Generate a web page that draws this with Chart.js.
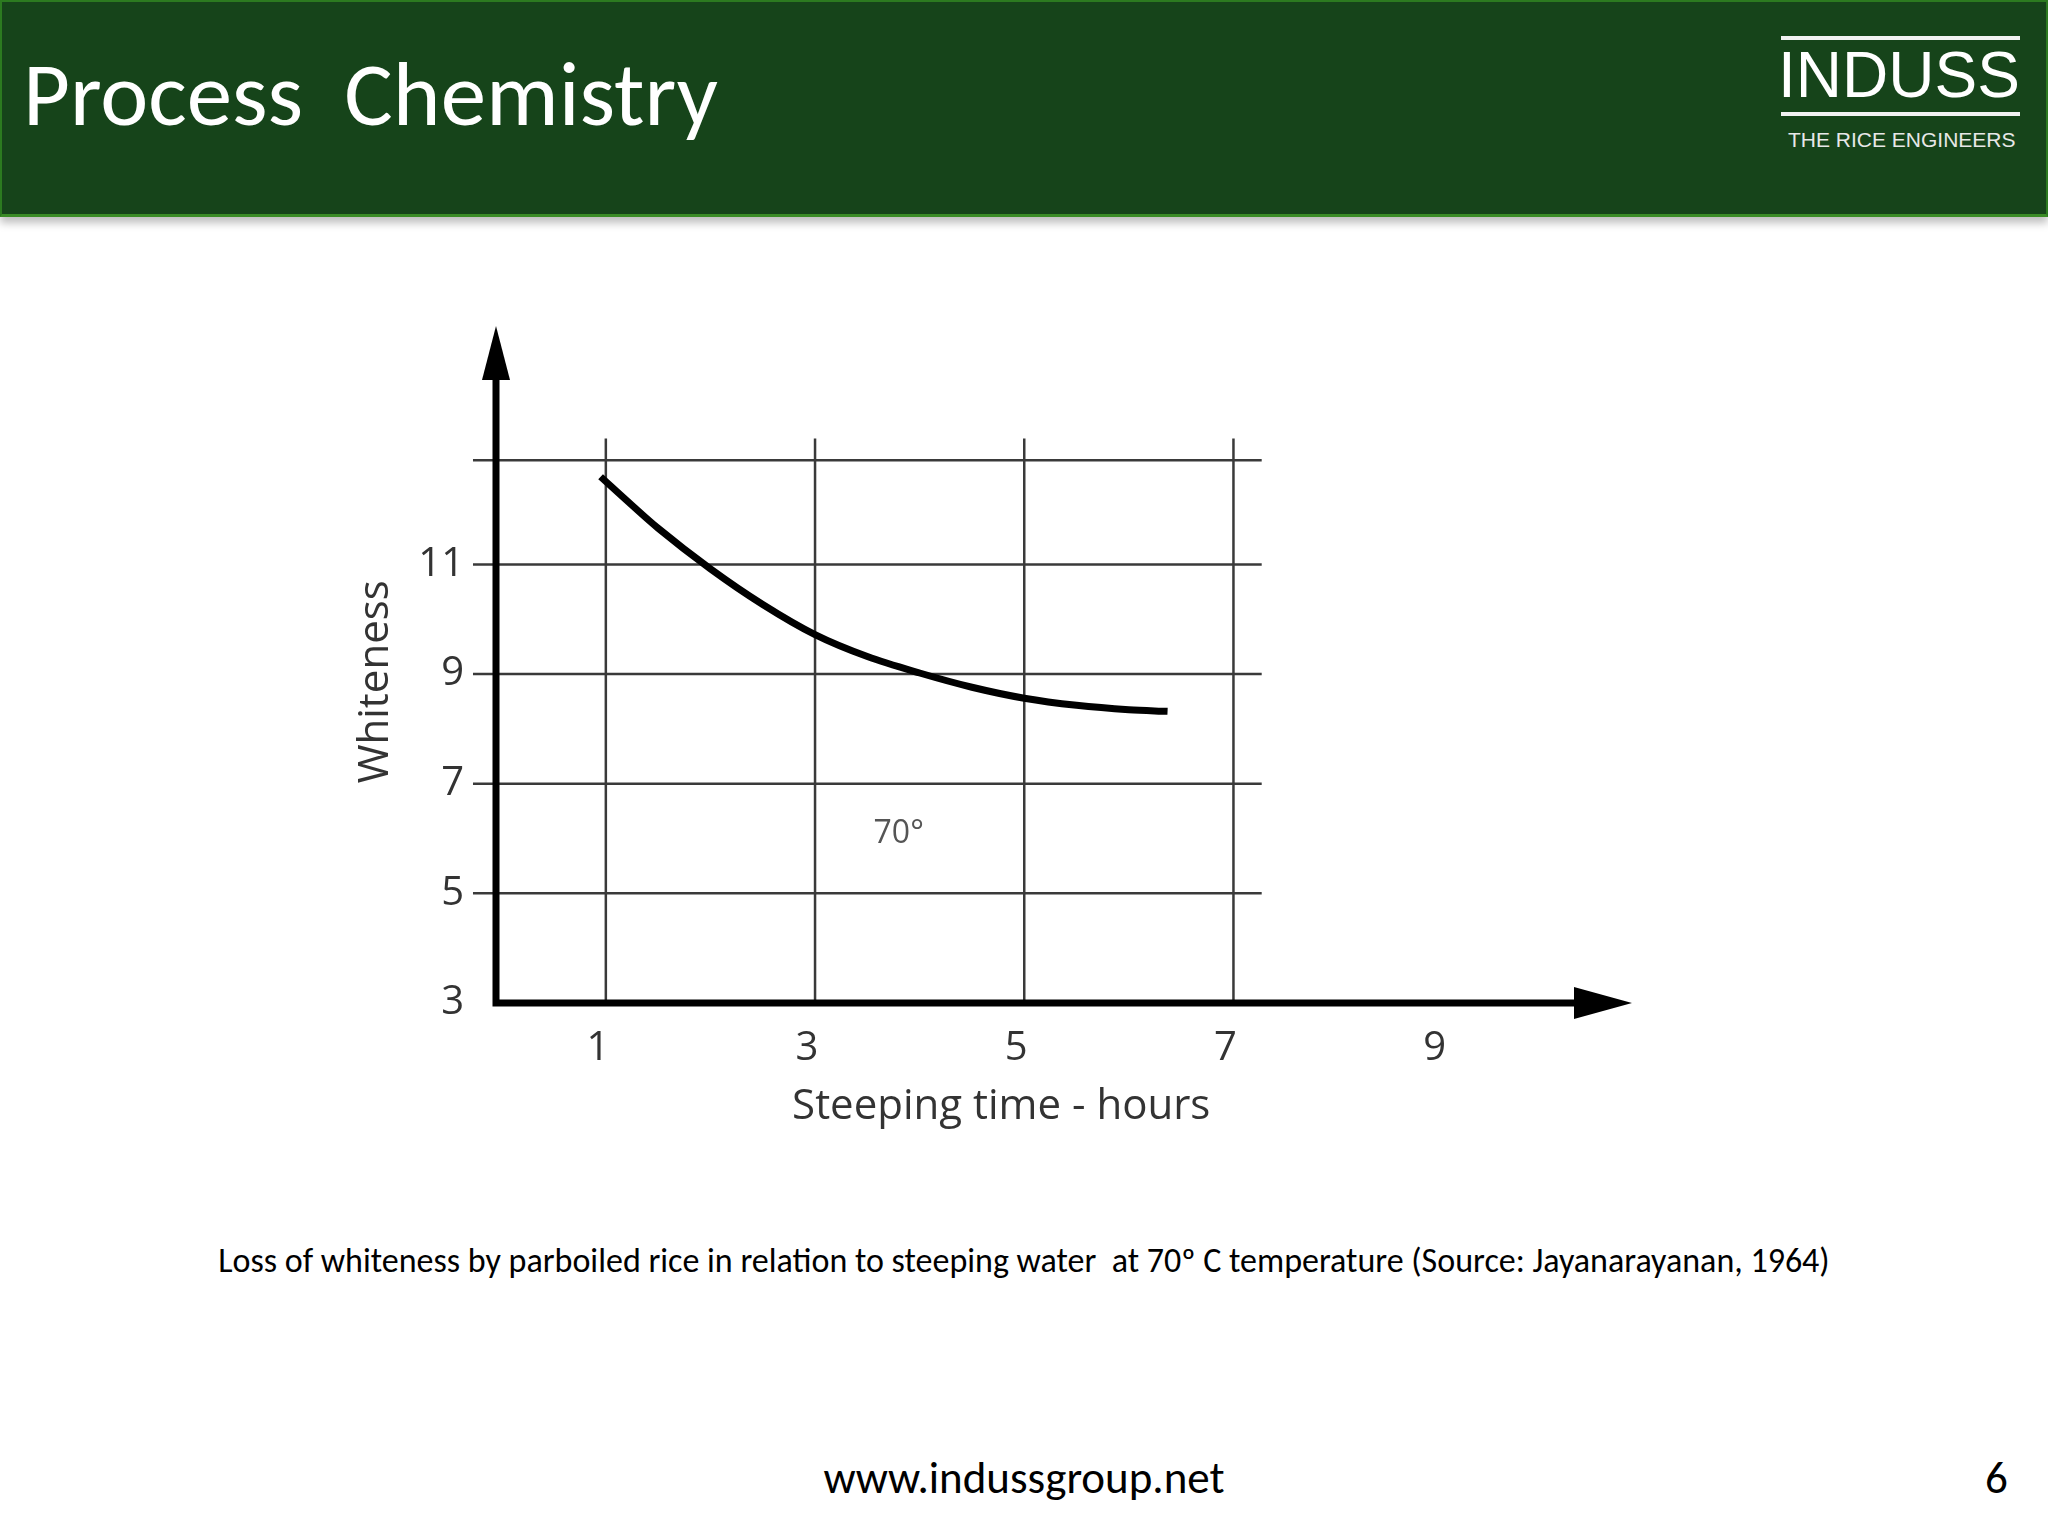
<!DOCTYPE html>
<html>
<head>
<meta charset="utf-8">
<title>Process Chemistry</title>
<script src="https://cdn.jsdelivr.net/npm/chart.js@4/dist/chart.umd.min.js"></script>
<style>
    html, body {
        margin: 0;
        padding: 0;
        width: 2048px;
        height: 1536px;
        background: #fff;
        overflow: hidden;
        position: relative;
    }
    .header {
        position: absolute;
        left: 0;
        top: 0;
        width: 2044px;
        height: 212px;
        background: #16441a;
        border-top: 2px solid #2c7a20;
        border-left: 2px solid #2c7a20;
        border-right: 2px solid #2c7a20;
        border-bottom: 3px solid #3a8c26;
        box-shadow: 0 6px 8px rgba(0, 0, 0, 0.25);
    }
    .title {
        position: absolute;
        left: 21px;
        top: 46px;
        font-family: Carlito, Lato, sans-serif;
        font-size: 91px;
        color: #fff;
        white-space: pre;
        line-height: 1;
    }
    .logo-line {
        position: absolute;
        left: 1779px;
        width: 239px;
        height: 4px;
        background: #f2f2f2;
    }
    .logo-name {
        position: absolute;
        left: 1776px;
        top: 41px;
        font-family: "Liberation Sans", Arial, sans-serif;
        font-size: 64px;
        color: #fff;
        line-height: 1;
    }
    .logo-tag {
        position: absolute;
        left: 1786px;
        top: 127px;
        font-family: "Liberation Sans", Arial, sans-serif;
        font-size: 21px;
        color: #e8e8e8;
        line-height: 1;
    }
    .chart-box {
        position: absolute;
        left: 0;
        top: 240px;
        width: 2048px;
        height: 1000px;
    }
    .caption {
        position: absolute;
        left: 0;
        width: 2048px;
        top: 1240px;
        text-align: center;
        font-family: Carlito, Lato, sans-serif;
        font-size: 34px;
        color: #000;
        white-space: pre;
    }
    .footer {
        position: absolute;
        left: 0;
        width: 2048px;
        top: 1450px;
        text-align: center;
        font-family: Carlito, Lato, sans-serif;
        font-size: 45px;
        color: #000;
    }
    .page-no {
        position: absolute;
        left: 1985px;
        top: 1450px;
        font-family: Carlito, Lato, sans-serif;
        font-size: 45px;
        color: #000;
    }
</style>
</head>
<body>
<div class="header">
    <div class="title">Process  Chemistry</div>
    <div class="logo-line" style="top: 34px;"></div>
    <div class="logo-name">INDUSS</div>
    <div class="logo-line" style="top: 110px;"></div>
    <div class="logo-tag">THE RICE ENGINEERS</div>
</div>

<div class="chart-box">
    <canvas id="whitenessChart" width="2048" height="1000"></canvas>
</div>

<div class="caption">Loss of whiteness by parboiled rice in relation to steeping water  at 70º C temperature (Source: Jayanarayanan, 1964)</div>
<div class="footer">www.indussgroup.net</div>
<div class="page-no">6</div>

<script>
// Data (70 deg C steeping)
const hours = [0.95, 1.25, 1.5, 2, 2.5, 3, 3.5, 4, 4.5, 5, 5.5, 6, 6.37];
const whiteness = [12.6, 12.08, 11.66, 10.92, 10.27, 9.72, 9.32, 9.02, 8.76, 8.56, 8.43, 8.35, 8.32];

// Axis labels and grid
const xTicks = [1, 3, 5, 7, 9];
const yTicks = [3, 5, 7, 9, 11];
const xGridLines = [1, 3, 5, 7];
const yGridLines = [5, 7, 9, 11, 12.9];

const xTitle = 'Steeping time - hours';
const yTitle = 'Whiteness';
const curveLabel = '70°';

const AXIS_FONT = '"Open Sans", sans-serif';

/**
 * Grid, arrow axes and free text
 */
const sketchPlugin = {
    id: 'sketch',
    beforeDatasetsDraw(chart) {
        const ctx = chart.ctx;
        const x = chart.scales.x;
        const y = chart.scales.y;
        const area = chart.chartArea;

        ctx.save();

        // grid
        ctx.strokeStyle = '#3a3a3a';
        ctx.lineWidth = 2.5;
        yGridLines.forEach(v => {
            const py = y.getPixelForValue(v);
            ctx.beginPath();
            ctx.moveTo(x.getPixelForValue(-0.27), py);
            ctx.lineTo(x.getPixelForValue(7.27), py);
            ctx.stroke();
        });
        xGridLines.forEach(v => {
            const px = x.getPixelForValue(v);
            ctx.beginPath();
            ctx.moveTo(px, y.getPixelForValue(13.3));
            ctx.lineTo(px, y.getPixelForValue(3));
            ctx.stroke();
        });

        // axes with arrows
        const x0 = area.left;
        const y0 = y.getPixelForValue(3);
        ctx.strokeStyle = '#000';
        ctx.fillStyle = '#000';
        ctx.lineWidth = 7;
        ctx.beginPath();
        ctx.moveTo(x0, y0 + 3.5);
        ctx.lineTo(x0, area.top + 40);
        ctx.moveTo(x0 - 3.5, y0);
        ctx.lineTo(area.right - 40, y0);
        ctx.stroke();

        ctx.beginPath();
        ctx.moveTo(x0, area.top);
        ctx.lineTo(x0 + 14, area.top + 54);
        ctx.lineTo(x0 - 14, area.top + 54);
        ctx.closePath();
        ctx.fill();

        ctx.beginPath();
        ctx.moveTo(area.right, y0);
        ctx.lineTo(area.right - 58, y0 - 16);
        ctx.lineTo(area.right - 58, y0 + 16);
        ctx.closePath();
        ctx.fill();

        ctx.restore();
    },
    afterDraw(chart) {
        const ctx = chart.ctx;
        const x = chart.scales.x;
        const y = chart.scales.y;
        const area = chart.chartArea;

        ctx.save();
        ctx.fillStyle = '#333';

        // x title
        ctx.font = '42px ' + AXIS_FONT;
        ctx.textAlign = 'center';
        ctx.textBaseline = 'alphabetic';
        ctx.fillText(xTitle, x.getPixelForValue(4.78), y.getPixelForValue(3) + 116);

        // y title
        ctx.translate(area.left - 120, y.getPixelForValue(8.86));
        ctx.rotate(-Math.PI / 2);
        ctx.textBaseline = 'middle';
        ctx.fillText(yTitle, 0, 0);
        ctx.setTransform(1, 0, 0, 1, 0, 0);

        // curve label
        ctx.fillStyle = '#555';
        ctx.font = '32px ' + AXIS_FONT;
        ctx.textAlign = 'center';
        ctx.textBaseline = 'middle';
        ctx.fillText(curveLabel, x.getPixelForValue(3.8), y.getPixelForValue(6.08));

        ctx.restore();
    }
};

function initChart() {
    const canvas = document.getElementById('whitenessChart');

    new Chart(canvas, {
        type: 'line',
        data: {
            datasets: [{
                label: curveLabel,
                data: hours.map((h, i) => ({ x: h, y: whiteness[i] })),
                borderColor: '#000',
                borderWidth: 7,
                borderCapStyle: 'butt',
                pointRadius: 0,
                fill: false,
                cubicInterpolationMode: 'monotone'
            }]
        },
        options: {
            responsive: false,
            animation: false,
            devicePixelRatio: 1,
            layout: {
                padding: { left: 0, top: 86, right: 416, bottom: 0 }
            },
            plugins: {
                legend: { display: false },
                tooltip: { enabled: false }
            },
            scales: {
                x: {
                    type: 'linear',
                    min: -0.05,
                    max: 10.81,
                    grid: { display: false },
                    border: { display: false },
                    ticks: {
                        color: '#333',
                        padding: 14,
                        labelOffset: -8,
                        maxRotation: 0,
                        font: { family: '"Open Sans"', size: 40 }
                    },
                    afterBuildTicks: scale => {
                        scale.ticks = xTicks.map(v => ({ value: v }));
                    },
                    afterFit: scale => {
                        scale.height = 237;
                    }
                },
                y: {
                    type: 'linear',
                    min: 3,
                    max: 15.35,
                    grid: { display: false },
                    border: { display: false },
                    ticks: {
                        color: '#333',
                        padding: 24,
                        font: { family: '"Open Sans"', size: 40 }
                    },
                    afterBuildTicks: scale => {
                        scale.ticks = yTicks.map(v => ({ value: v }));
                    },
                    afterFit: scale => {
                        scale.width = 496;
                    }
                }
            }
        },
        plugins: [sketchPlugin]
    });
}

document.addEventListener('DOMContentLoaded', initChart);
</script>
</body>
</html>
